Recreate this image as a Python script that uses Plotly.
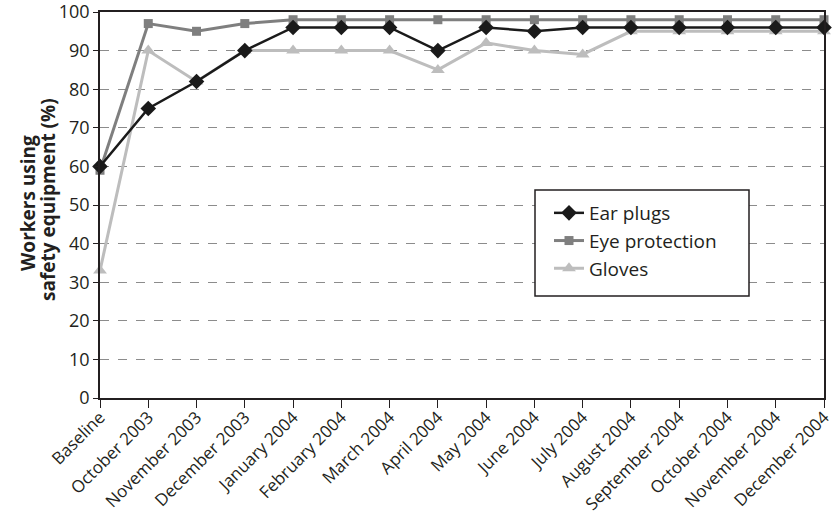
import plotly.graph_objects as go

categories = ["Baseline", "October 2003", "November 2003", "December 2003",
              "January 2004", "February 2004", "March 2004", "April 2004",
              "May 2004", "June 2004", "July 2004", "August 2004",
              "September 2004", "October 2004", "November 2004", "December 2004"]
ear_plugs = [60, 75, 82, 90, 96, 96, 96, 90, 96, 95, 96, 96, 96, 96, 96, 96]
eye_protection = [59, 97, 95, 97, 98, 98, 98, 98, 98, 98, 98, 98, 98, 98, 98, 98]
gloves = [33, 90, 82, 90, 90, 90, 90, 85, 92, 90, 89, 95, 95, 95, 95, 95]
y_ticks = [0, 10, 20, 30, 40, 50, 60, 70, 80, 90, 100]
y_title_lines = ["Workers using", "safety equipment (%)"]

FONT = "Open Sans"
INK = "#231f20"
W, H = 836, 518
M_L, M_R, M_T, M_B = 100, 12, 12, 120
PW, PH = W - M_L - M_R, H - M_T - M_B
x_idx = list(range(len(categories)))


def px_x(p):
    return (p - M_L) / PW


def px_y(p):
    return (H - M_B - p) / PH


fig = go.Figure()
fig.add_trace(go.Scatter(
    x=x_idx, y=gloves, name="Gloves", mode="lines+markers",
    line=dict(color="#bdbdbd", width=3),
    marker=dict(symbol="triangle-up", size=12, color="#bdbdbd"),
    cliponaxis=False, legendrank=3))
fig.add_trace(go.Scatter(
    x=x_idx, y=eye_protection, name="Eye protection", mode="lines+markers",
    line=dict(color="#7f7f7f", width=3),
    marker=dict(symbol="square", size=9, color="#7f7f7f"),
    cliponaxis=False, legendrank=2))
fig.add_trace(go.Scatter(
    x=x_idx, y=ear_plugs, name="Ear plugs", mode="lines+markers",
    line=dict(color="#1a1a1a", width=2.5),
    marker=dict(symbol="diamond", size=12, color="#1a1a1a"),
    cliponaxis=False, legendrank=1))

# two-line rotated y-axis title, set as separate lines for tight leading
title_annotations = [
    dict(text=f"<b>{line}</b>", xref="paper", yref="paper",
         x=px_x(cx), y=px_y(cy), xanchor="center", yanchor="middle",
         textangle=-90, showarrow=False,
         font=dict(family=FONT, size=19, color=INK))
    for line, cx, cy in zip(y_title_lines, [28, 48], [203, 200])
]

fig.update_layout(
    width=W, height=H,
    margin=dict(l=M_L, r=M_R, t=M_T, b=M_B),
    plot_bgcolor="white", paper_bgcolor="white",
    font=dict(family=FONT, size=18, color=INK),
    showlegend=True,
    legend=dict(
        x=px_x(549), y=px_y(194),
        xanchor="left", yanchor="top",
        bgcolor="rgba(0,0,0,0)", borderwidth=0,
        font=dict(family=FONT, size=19, color=INK),
        traceorder="normal", tracegroupgap=0,
    ),
    shapes=[dict(
        type="rect", xref="paper", yref="paper",
        x0=px_x(535), x1=px_x(749), y0=px_y(296), y1=px_y(190),
        line=dict(color=INK, width=1.5), fillcolor="white", layer="above",
    )],
    xaxis=dict(
        tickmode="array", tickvals=x_idx, ticktext=categories,
        range=[0, len(categories) - 1], tickangle=-45, automargin=False,
        ticklabeloverflow="allow", ticklabelstandoff=-7,
        showgrid=False, showline=True, linecolor=INK, linewidth=1.5,
        mirror=True, ticks="outside", ticklen=8, tickcolor=INK,
        tickwidth=1.2, zeroline=False,
        tickfont=dict(family=FONT, size=17, color=INK),
    ),
    yaxis=dict(
        range=[0, 100], tickvals=y_ticks, automargin=False,
        ticklabeloverflow="allow",
        showgrid=True, gridcolor="#8c8c8c", griddash="dash", gridwidth=1,
        showline=True, linecolor=INK, linewidth=1.5, mirror=True,
        ticks="outside", ticklen=5, tickcolor=INK, tickwidth=1.2,
        zeroline=False,
        tickfont=dict(family=FONT, size=18, color=INK),
    ),
    annotations=title_annotations,
)

fig.write_html("out.html")
